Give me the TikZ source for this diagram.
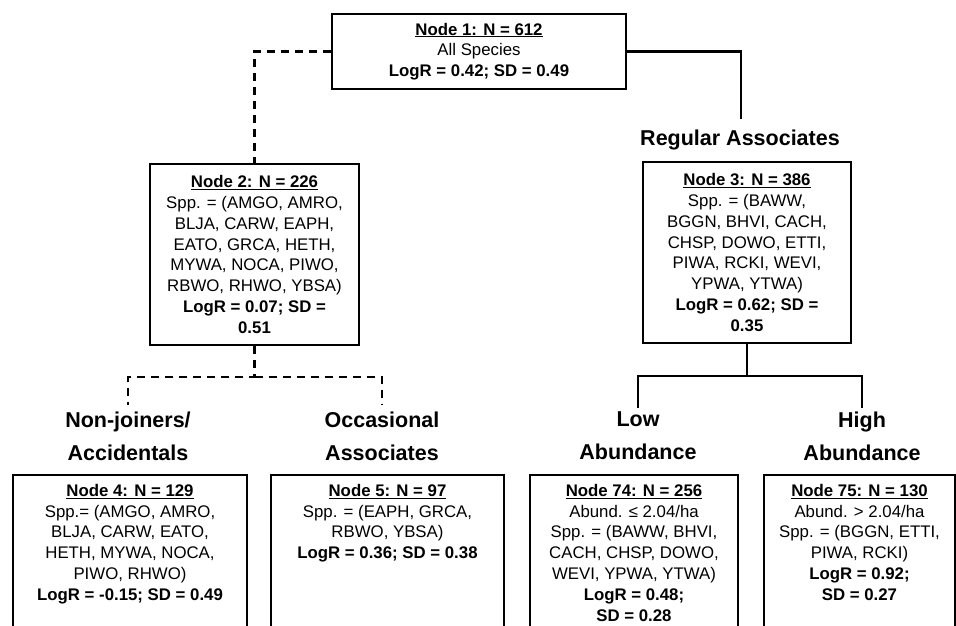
\documentclass[tikz,border=0pt]{standalone}
\usepackage{fontspec}
\setmainfont{Liberation Sans}
\usepackage{tikz}

\newcommand{\hd}[1]{\underline{\textbf{#1}}}

\begin{document}
\begin{tikzpicture}[x=1pt,y=-1pt]
      \useasboundingbox (0,0) rectangle (956,626);
      \clip (0,0) rectangle (956,626);
      \tikzset{B/.style = {draw, line width=2.2pt, align=center, inner xsep=3pt, inner ysep=9pt,
          font=\fontsize{16.8}{20.8}\selectfont}}
      \tikzset{BB/.style = {B, anchor=north, text depth=110pt}}
      \tikzset{L/.style = {align=center, font=\fontsize{21.5}{33}\selectfont\bfseries}}
      \tikzset{S/.style = {draw, line width=2.2pt}}
      \tikzset{D/.style = {draw, line width=2.2pt, dash pattern=on 8pt off 6pt}}
      % boxes
      \node[B,minimum width=294pt,minimum height=75pt](n1) at (479,51.5)
        {\hd{Node 1: N = 612}\\ All Species\\ \textbf{LogR = 0.42; SD = 0.49}};
      \node[B,minimum width=209pt,minimum height=181pt](n2) at (254.5,254.5)
        {\hd{Node 2: N = 226}\\ Spp. = (AMGO, AMRO,\\ BLJA, CARW, EAPH,\\ EATO, GRCA, HETH,\\
         MYWA, NOCA, PIWO,\\ RBWO, RHWO, YBSA)\\ \textbf{LogR = 0.07; SD =}\\ \textbf{0.51}};
      \node[B,minimum width=208pt,minimum height=181pt](n3) at (747,252.5)
        {\hd{Node 3: N = 386}\\ Spp. = (BAWW,\\ BGGN, BHVI, CACH,\\ CHSP, DOWO, ETTI,\\
         PIWA, RCKI, WEVI,\\ YPWA, YTWA)\\ \textbf{LogR = 0.62; SD =}\\ \textbf{0.35}};
      \node[BB,minimum width=234pt](n4) at (130,474)
        {\hd{Node 4: N = 129}\\ Spp.= (AMGO, AMRO,\\ BLJA, CARW, EATO,\\ HETH, MYWA, NOCA,\\
         PIWO, RHWO)\\ \textbf{LogR = -0.15; SD = 0.49}};
      \node[BB,minimum width=233pt](n5) at (387.5,474)
        {\hd{Node 5: N = 97}\\ Spp. = (EAPH, GRCA,\\ RBWO, YBSA)\\ \textbf{LogR = 0.36; SD = 0.38}};
      \node[BB,minimum width=208pt](n74) at (634,474)
        {\hd{Node 74: N = 256}\\ Abund. ≤ 2.04/ha\\ Spp. = (BAWW, BHVI,\\ CACH, CHSP, DOWO,\\
         WEVI, YPWA, YTWA)\\ \textbf{LogR = 0.48;}\\ \textbf{SD = 0.28}};
      \node[BB,minimum width=191pt](n75) at (859.5,474)
        {\hd{Node 75: N = 130}\\ Abund. > 2.04/ha\\ Spp. = (BGGN, ETTI,\\ PIWA, RCKI)\\
         \textbf{LogR = 0.92;}\\ \textbf{SD = 0.27}};
      % group labels
      \node[L](reg) at (740,140) {Regular Associates};
      \node[L](lab4) at (128,436) {Non-joiners/\\Accidentals};
      \node[L](lab5) at (382,436) {Occasional\\Associates};
      \node[L](lab74) at (638,436) {Low\\Abundance};
      \node[L](lab75) at (862,436) {High\\Abundance};
      % branch points
      \coordinate (c3) at (741,119);
      \coordinate (f2) at (254.5,377);
      \coordinate (e4) at (128,405);
      \coordinate (e5) at (382,405);
      \coordinate (f3) at (747,376);
      \coordinate (e74) at (638,408);
      \coordinate (e75) at (862,408);
      \draw[D](n1.west) -| (n2.north);
      \draw[S](n1.east) -| (c3);
      \draw[D](n2.south) -- (f2) -| (e4);
      \draw[D](f2) -| (e5);
      \draw[S](n3.south) -- (f3) -| (e74);
      \draw[S](f3) -| (e75);
    \end{tikzpicture}
\end{document}
